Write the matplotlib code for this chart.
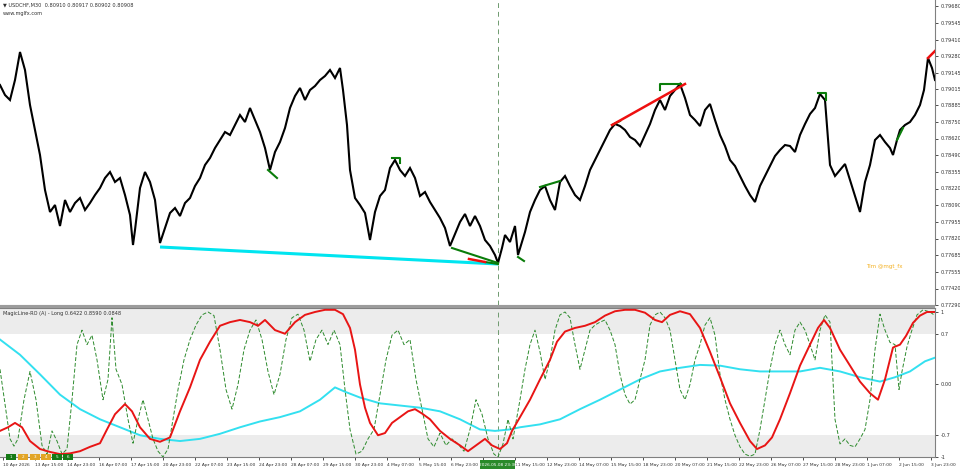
import matplotlib
matplotlib.use("Agg")
import matplotlib.pyplot as plt
from matplotlib.patches import Rectangle

# ---------------- data ----------------
# trading-time position (hours from first bar) and close prices
price_t = [0, 5, 10, 15, 20, 25, 30, 35, 40, 45,
           50, 55, 60, 65, 70, 75, 80, 85, 90, 95,
           100, 105, 110, 115, 120, 125, 130, 133, 135, 140,
           145, 150, 155, 160, 165, 170, 175, 180, 185, 190,
           195, 200, 205, 210, 215, 220, 225, 230, 235, 240,
           245, 250, 255, 260, 265, 270, 275, 280, 285, 290,
           295, 300, 305, 310, 315, 320, 325, 330, 335, 340,
           343, 347, 350, 355, 360, 365, 370, 375, 380, 385,
           390, 395, 400, 405, 410, 415, 420, 425, 430, 435,
           440, 445, 450, 455, 460, 465, 470, 475, 480, 485,
           490, 495, 498, 502, 505, 510, 515, 518, 522, 525,
           530, 535, 540, 545, 550, 555, 560, 565, 570, 575,
           580, 585, 590, 595, 600, 605, 610, 615, 620, 625,
           630, 635, 640, 645, 650, 655, 660, 665, 670, 675,
           680, 685, 690, 695, 700, 705, 710, 715, 720, 725,
           730, 735, 740, 745, 750, 755, 760, 765, 770, 775,
           780, 785, 790, 795, 800, 805, 810, 815, 820, 825,
           830, 835, 840, 845, 850, 855, 860, 865, 870, 875,
           880, 885, 890, 893, 897, 900, 905, 910, 915, 920,
           924, 928, 932, 935]
price = [0.79048, 0.78968, 0.78928, 0.79088, 0.79312, 0.79168, 0.78888, 0.78688, 0.78488, 0.78208,
         0.78032, 0.78088, 0.77920, 0.78128, 0.78032, 0.78104, 0.78144, 0.78048, 0.78104, 0.78168,
         0.78224, 0.78304, 0.78352, 0.78272, 0.78304, 0.78168, 0.78008, 0.77768, 0.77888, 0.78224,
         0.78352, 0.78272, 0.78128, 0.77784, 0.77904, 0.78024, 0.78064, 0.78000, 0.78104, 0.78144,
         0.78240, 0.78304, 0.78408, 0.78464, 0.78544, 0.78608, 0.78672, 0.78648, 0.78728, 0.78808,
         0.78752, 0.78864, 0.78768, 0.78672, 0.78544, 0.78368, 0.78512, 0.78592, 0.78704, 0.78864,
         0.78960, 0.79024, 0.78928, 0.79008, 0.79040, 0.79088, 0.79120, 0.79168, 0.79104, 0.79184,
         0.79008, 0.78728, 0.78368, 0.78144, 0.78088, 0.78024, 0.77808, 0.78032, 0.78160, 0.78208,
         0.78384, 0.78448, 0.78368, 0.78320, 0.78384, 0.78304, 0.78160, 0.78192, 0.78112, 0.78048,
         0.77984, 0.77904, 0.77760, 0.77856, 0.77952, 0.78016, 0.77920, 0.78000, 0.77920, 0.77808,
         0.77760, 0.77688, 0.77624, 0.77744, 0.77848, 0.77792, 0.77920, 0.77688, 0.77792, 0.77872,
         0.78032, 0.78128, 0.78208, 0.78240, 0.78128, 0.78048, 0.78272, 0.78320, 0.78240, 0.78168,
         0.78128, 0.78240, 0.78368, 0.78448, 0.78528, 0.78608, 0.78688, 0.78736, 0.78720, 0.78688,
         0.78632, 0.78608, 0.78560, 0.78648, 0.78736, 0.78848, 0.78928, 0.78848, 0.78960, 0.79008,
         0.79056, 0.78944, 0.78808, 0.78768, 0.78720, 0.78848, 0.78896, 0.78768, 0.78648, 0.78560,
         0.78448, 0.78400, 0.78320, 0.78240, 0.78168, 0.78112, 0.78240, 0.78320, 0.78400, 0.78480,
         0.78528, 0.78568, 0.78560, 0.78512, 0.78648, 0.78736, 0.78816, 0.78864, 0.78976, 0.78928,
         0.78408, 0.78320, 0.78368, 0.78416, 0.78288, 0.78160, 0.78032, 0.78272, 0.78408, 0.78608,
         0.78648, 0.78592, 0.78544, 0.78488, 0.78608, 0.78688, 0.78728, 0.78752, 0.78808, 0.78888,
         0.79008, 0.79264, 0.79184, 0.79088]

# trend lines drawn on the price chart: (t0, p0, t1, p1)
cyan_trend = (160, 0.77752, 498, 0.77616)
red_trends = [(612, 0.78728, 685, 0.79056), (469, 0.77656, 485, 0.77632), (928, 0.79264, 940, 0.79360)]
green_trends = [
    [(268, 0.78368), (277, 0.78304)],
    [(392, 0.78464), (400, 0.78464), (400, 0.78424)],
    [(452, 0.77744), (498, 0.77624)],
    [(485, 0.77632), (498, 0.77616)],
    [(518, 0.77672), (524, 0.77640)],
    [(540, 0.78232), (560, 0.78280)],
    [(612, 0.78728), (620, 0.78760)],
    [(660, 0.79008), (660, 0.79056), (681, 0.79056)],
    [(818, 0.78984), (826, 0.78984), (826, 0.78928)],
    [(897, 0.78608), (903, 0.78704)],
]

price_ticks = [0.79680, 0.79545, 0.79410, 0.79280, 0.79145, 0.79015, 0.78885, 0.78750, 0.78620, 0.78490,
               0.78355, 0.78220, 0.78090, 0.77955, 0.77820, 0.77685, 0.77555, 0.77420, 0.77290]

# indicator (MagicLine-RO)
red_t = [0, 8, 15, 22, 30, 40, 50, 60, 70, 80, 90, 100, 107, 115, 125, 132, 140, 150, 160, 170,
         180, 190, 200, 210, 220, 230, 240, 250, 258, 265, 275, 285, 295, 305, 315, 325, 335, 343, 350, 355,
         360, 365, 370, 378, 385, 392, 400, 408, 415, 422, 430, 440, 450, 460, 468, 476, 485, 492, 500, 507,
         512, 520, 530, 540, 550, 557, 565, 575, 585, 595, 605, 615, 625, 635, 645, 655, 662, 670, 680, 690,
         700, 710, 720, 730, 740, 750, 757, 765, 772, 780, 790, 800, 810, 818, 824, 830, 840, 850, 860, 870,
         878, 885, 893, 900, 906, 913, 920, 927, 935]
red_v = [-0.64, -0.59, -0.53, -0.59, -0.78, -0.89, -0.93, -0.96, -0.95, -0.92, -0.86, -0.81, -0.62, -0.41, -0.27, -0.37, -0.59, -0.75, -0.79, -0.73,
         -0.37, -0.04, 0.34, 0.59, 0.81, 0.86, 0.89, 0.86, 0.81, 0.89, 0.75, 0.70, 0.86, 0.96, 1.00, 1.03, 1.03, 0.97, 0.78, 0.48,
         0.00, -0.32, -0.53, -0.70, -0.67, -0.53, -0.45, -0.37, -0.34, -0.40, -0.48, -0.64, -0.75, -0.84, -0.92, -0.84, -0.75, -0.84, -0.89, -0.81,
         -0.64, -0.45, -0.21, 0.07, 0.34, 0.59, 0.73, 0.78, 0.81, 0.86, 0.95, 1.01, 1.03, 1.03, 0.99, 0.89, 0.86, 0.96, 1.01, 0.97,
         0.78, 0.45, 0.10, -0.26, -0.53, -0.78, -0.89, -0.84, -0.73, -0.48, -0.12, 0.26, 0.55, 0.78, 0.89, 0.78, 0.48, 0.26, 0.04, -0.12,
         -0.21, 0.07, 0.51, 0.55, 0.67, 0.85, 0.95, 1.00, 1.00]

green_t = [0, 5, 10, 14, 18, 24, 30, 36, 42, 47, 52, 57, 62, 67, 72, 77, 82, 87, 92, 97,
           103, 108, 112, 116, 122, 128, 133, 138, 143, 148, 153, 158, 163, 168, 173, 178, 184, 190, 196, 202,
           208, 214, 220, 226, 232, 238, 244, 250, 256, 262, 268, 274, 280, 286, 292, 298, 304, 310, 316, 322,
           328, 334, 340, 345, 350, 356, 362, 368, 374, 380, 386, 392, 398, 404, 410, 416, 422, 428, 434, 440,
           446, 452, 458, 464, 470, 476, 482, 488, 494, 498, 503, 508, 513, 520, 525, 530, 535, 540, 545, 550,
           555, 560, 565, 570, 575, 580, 585, 590, 595, 600, 605, 610, 615, 620, 625, 630, 635, 640, 645, 650,
           655, 660, 665, 670, 675, 680, 685, 690, 695, 700, 705, 710, 715, 720, 725, 730, 735, 740, 745, 750,
           755, 760, 765, 770, 775, 780, 785, 790, 795, 800, 805, 810, 815, 820, 825, 830, 835, 840, 845, 850,
           855, 860, 865, 870, 875, 880, 885, 890, 895, 899, 902, 907, 911, 917, 923, 930, 935]
green_v = [0.21, -0.27, -0.75, -0.85, -0.75, -0.21, 0.18, -0.21, -0.84, -0.96, -0.64, -0.78, -0.96, -0.89, -0.21, 0.55, 0.75, 0.55, 0.68, 0.34,
           -0.21, 0.07, 0.92, 0.21, 0.00, -0.48, -0.81, -0.48, -0.21, -0.48, -0.75, -0.92, -1.00, -0.89, -0.48, -0.07, 0.34, 0.62, 0.82, 0.96,
           1.00, 0.95, 0.48, -0.07, -0.34, 0.00, 0.48, 0.75, 0.89, 0.62, 0.18, -0.14, 0.14, 0.62, 0.92, 0.97, 0.75, 0.32, 0.62, 0.75,
           0.55, 0.75, 0.55, -0.07, -0.62, -0.96, -0.92, -0.75, -0.62, -0.14, 0.34, 0.68, 0.75, 0.55, 0.62, 0.07, -0.34, -0.75, -0.86, -0.67,
           -0.84, -0.75, -0.82, -0.92, -0.62, -0.21, -0.41, -0.75, -0.96, -1.00, -0.82, -0.48, -0.75, -0.21, 0.21, 0.55, 0.75, 0.45, 0.07, 0.34,
           0.75, 0.96, 1.00, 0.92, 0.55, 0.21, 0.48, 0.75, 0.82, 0.86, 0.89, 0.75, 0.55, 0.14, -0.14, -0.27, -0.21, 0.07, 0.34, 0.82,
           0.96, 1.00, 0.92, 0.75, 0.34, -0.07, -0.21, 0.00, 0.34, 0.55, 0.82, 0.92, 0.68, 0.14, -0.21, -0.48, -0.70, -0.86, -0.96, -0.99,
           -0.96, -0.62, -0.21, 0.21, 0.55, 0.75, 0.55, 0.41, 0.75, 0.86, 0.75, 0.55, 0.34, 0.75, 0.96, 0.86, -0.48, -0.82, -0.75, -0.84,
           -0.86, -0.75, -0.62, -0.21, 0.48, 0.97, 0.75, 0.58, 0.55, -0.07, 0.18, 0.52, 0.71, 0.96, 1.03, 1.00, 0.95]

cyan_t = [0, 20, 40, 60, 80, 100, 120, 140, 160, 180, 200, 220, 240, 260, 280, 300, 320, 335, 345, 360,
          380, 400, 420, 440, 460, 480, 495, 510, 520, 540, 560, 580, 600, 620, 640, 660, 680, 700, 720, 740,
          760, 780, 800, 820, 840, 860, 880, 895, 910, 925, 935]
cyan_v = [0.62, 0.41, 0.14, -0.14, -0.34, -0.48, -0.59, -0.70, -0.75, -0.78, -0.75, -0.68, -0.59, -0.51, -0.45, -0.37, -0.21, -0.04, -0.10, -0.18,
          -0.26, -0.29, -0.32, -0.37, -0.48, -0.62, -0.64, -0.62, -0.59, -0.55, -0.48, -0.34, -0.21, -0.07, 0.07, 0.18, 0.23, 0.27, 0.26, 0.21,
          0.18, 0.18, 0.18, 0.23, 0.18, 0.10, 0.04, 0.10, 0.18, 0.32, 0.37]

ind_ticks = [1.0, 0.7, 0.0, -0.7, -1.0]
ind_tick_labels = ["1", "0.7", "0.00", "-0.7", "-1"]

time_labels = ["10 Apr 2026", "13 Apr 15:00", "14 Apr 23:00", "16 Apr 07:00", "17 Apr 15:00",
               "20 Apr 23:00", "22 Apr 07:00", "23 Apr 15:00", "24 Apr 23:00", "28 Apr 07:00",
               "29 Apr 15:00", "30 Apr 23:00", "4 May 07:00", "5 May 15:00", "6 May 23:00",
               "8 May 07:00", "11 May 15:00", "12 May 23:00", "14 May 07:00", "15 May 15:00",
               "18 May 23:00", "20 May 07:00", "21 May 15:00", "22 May 23:00", "26 May 07:00",
               "27 May 15:00", "28 May 23:00", "1 Jun 07:00", "2 Jun 15:00", "3 Jun 23:00"]
cursor_t = 498
cursor_label = "2026.05.08 23:30"

assert len(price_t) == len(price)
assert len(red_t) == len(red_v)
assert len(green_t) == len(green_v)
assert len(cyan_t) == len(cyan_v)

# ---------------- figure ----------------
plt.rcParams["font.family"] = ["DejaVu Sans"]
W, H = 960, 472
fig = plt.figure(figsize=(W / 100, H / 100), dpi=100)
fig.patch.set_facecolor("white")


def fx(px):
    return px / W


def fy(py):
    return 1 - py / H


ax = fig.add_axes([0, fy(305), fx(935), 305 / H])
ax2 = fig.add_axes([0, fy(457), fx(935), (457 - 308) / H])

GRAY = "#808080"
TXT = "#303030"
FS = 3.6
XFS = 3.15

for a in (ax, ax2):
    a.set_xlim(0, 935)
    a.set_facecolor("white")
    a.spines["left"].set_visible(False)
    for s in ("top", "right", "bottom"):
        a.spines[s].set_color(GRAY)
        a.spines[s].set_linewidth(0.8)
    a.yaxis.tick_right()
    a.tick_params(axis="y", length=2.5, width=0.6, color=TXT, labelsize=FS, pad=1.5, labelcolor=TXT)
ax.spines["top"].set_visible(False)

# --- main price chart
ax.set_ylim(0.79728 - 0.00008 * 305, 0.79728)
ax.set_yticks(price_ticks)
ax.set_yticklabels([f"{p:.5f}" for p in price_ticks])
ax.set_xticks([])

ax.plot(price_t, price, color="black", lw=1.5, solid_joinstyle="miter", zorder=3)

t0, p0, t1, p1 = cyan_trend
ax.plot([t0, t1], [p0, p1], color="#00e5f0", lw=2.2, zorder=4, solid_capstyle="butt")
for seg in green_trends:
    xs, ys = zip(*seg)
    ax.plot(xs, ys, color="#0a7d0a", lw=1.5, zorder=5)
for t0, p0, t1, p1 in red_trends:
    ax.plot([t0, t1], [p0, p1], color="#ee1010", lw=1.8, zorder=5)

ax.axvline(cursor_t, color="#6f9a6f", lw=0.7, ls=(0, (5, 4)), zorder=2)

fig.text(fx(3), fy(5), "\u25bc USDCHF,M30  0.80910 0.80917 0.80902 0.80908", fontsize=FS,
         color=TXT, va="center", ha="left")
fig.text(fx(3), fy(13), "www.mglfx.com", fontsize=FS, color=TXT, va="center", ha="left")
fig.text(fx(903), fy(266), "Tim @mgt_fx", fontsize=FS + 0.4, color="#f4b020", va="center", ha="right")

# separator between panels
fig.add_artist(Rectangle((0, fy(308)), fx(935), 3 / H, transform=fig.transFigure,
                         facecolor="#9c9c9c", edgecolor="none"))

# --- indicator panel
ax2.set_ylim(-1.0, 1.055)
ax2.axhspan(0.7, 1.055, color="#ececec", zorder=0, lw=0)
ax2.axhspan(-1.0, -0.7, color="#ececec", zorder=0, lw=0)
ax2.set_yticks(ind_ticks)
ax2.set_yticklabels(ind_tick_labels)

ax2.plot(cyan_t, cyan_v, color="#33e0f0", lw=1.4, zorder=3)
ax2.plot(green_t, green_v, color="#2e8b2e", lw=0.7, ls=(0, (4, 2)), zorder=4)
ax2.plot(red_t, red_v, color="#e81515", lw=1.4, zorder=5)
ax2.axvline(cursor_t, color="#6f9a6f", lw=0.7, ls=(0, (5, 4)), zorder=2)

# time axis: the label hidden under the cursor time box is left blank
box_l, box_r = 480, 515
tick_pos = [3 + 32 * i for i in range(len(time_labels))]
shown = ["" if box_l - 4 <= p < box_r else lab for p, lab in zip(tick_pos, time_labels)]
ax2.set_xticks(tick_pos)
ax2.set_xticklabels(shown, ha="left")
ax2.tick_params(axis="x", length=2.5, width=0.6, color=TXT, labelsize=XFS, pad=1.5, labelcolor=TXT)
for lbl in ax2.get_xticklabels():
    if lbl.get_text() == "11 May 15:00":
        lbl.set_x(lbl.get_position()[0])

fig.text(fx(3), fy(314), "MagicLine-RO (A) - Long 0.6422 0.8590 0.0848", fontsize=FS,
         color=TXT, va="center", ha="left")

# signal boxes bottom-left
box_specs = [(6, "#157a15", "1"), (18, "#e2a526", "2"), (30, "#e2a526", "3"),
             (41, "#e2a526", "4"), (52, "#157a15", "5"), (63, "#157a15", "6")]
for bx, col, lab in box_specs:
    fig.add_artist(Rectangle((fx(bx), fy(460)), 10 / W, 6 / H, transform=fig.transFigure,
                             facecolor=col, edgecolor="none"))
    fig.text(fx(bx + 5), fy(457), lab, fontsize=3, color="white", ha="center", va="center")

# cursor time label
fig.add_artist(Rectangle((fx(box_l), fy(469)), (box_r - box_l) / W, 9 / H, transform=fig.transFigure,
                         facecolor="#2a8a2a", edgecolor="none", zorder=10))
fig.text(fx((box_l + box_r) / 2), fy(464.5), cursor_label, fontsize=XFS - 0.1, color="white",
         ha="center", va="center", zorder=11)

fig.savefig("out.png", dpi=100, facecolor="white")
